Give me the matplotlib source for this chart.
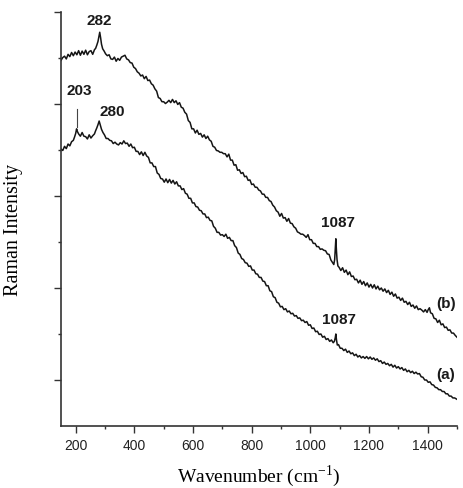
import numpy as np
import matplotlib
matplotlib.use("Agg")
import matplotlib.pyplot as plt
from matplotlib.ticker import FixedLocator, NullFormatter

# Raman spectra, intensity in arbitrary units (x1000 counts)
wn_b = [150, 156, 162, 168, 174, 180, 186, 192, 198, 204, 210, 216, 222, 228, 234,
        240, 246, 252, 258, 264, 268, 272, 276, 279, 282, 285, 288, 292, 297, 302,
        308, 314, 320, 326, 332, 338, 344, 350, 356, 362, 368, 374, 380, 386, 392,
        398, 404, 410, 416, 422, 428, 434, 440, 446, 452, 458, 464, 470, 476, 482,
        488, 494, 500, 506, 512, 518, 524, 530, 536, 542, 548, 554, 560, 566, 572,
        578, 584, 590, 596, 602, 608, 614, 620, 626, 632, 638, 644, 650, 656, 662,
        668, 674, 680, 686, 692, 698, 704, 710, 716, 722, 728, 734, 740, 746, 752,
        758, 764, 770, 776, 782, 788, 794, 800, 806, 812, 818, 824, 830, 836, 842,
        848, 854, 860, 866, 872, 878, 884, 890, 896, 902, 908, 914, 920, 926, 932,
        938, 944, 950, 956, 962, 968, 974, 980, 986, 992, 998, 1004, 1010, 1016, 1022,
        1028, 1034, 1040, 1046, 1052, 1058, 1064, 1070, 1076, 1080, 1083, 1085, 1087, 1089, 1091,
        1094, 1098, 1104, 1110, 1116, 1122, 1128, 1134, 1140, 1146, 1152, 1158, 1164, 1170, 1176,
        1182, 1188, 1194, 1200, 1206, 1212, 1218, 1224, 1230, 1236, 1242, 1248, 1254, 1260, 1266,
        1272, 1278, 1284, 1290, 1296, 1302, 1308, 1314, 1320, 1326, 1332, 1338, 1344, 1350, 1356,
        1362, 1368, 1374, 1380, 1386, 1392, 1398, 1402, 1406, 1410, 1416, 1422, 1428, 1434, 1440,
        1446, 1452, 1458, 1464, 1470, 1476, 1482, 1488, 1494, 1500]
int_b = [7.95, 8.01, 8.04, 7.98, 8.08, 8.03, 8.12, 8.05, 8.13, 8.07, 8.16, 8.06, 8.15, 8.08, 8.17,
         8.07, 8.14, 8.16, 8.08, 8.18, 8.21, 8.28, 8.36, 8.46, 8.56, 8.44, 8.30, 8.20, 8.15, 8.09,
         8.05, 8.07, 7.98, 7.97, 8.02, 7.93, 7.99, 7.95, 8.02, 8.04, 8.06, 7.98, 7.96, 7.90, 7.89,
         7.80, 7.77, 7.70, 7.67, 7.61, 7.63, 7.55, 7.60, 7.51, 7.52, 7.44, 7.41, 7.33, 7.28, 7.14,
         7.12, 7.05, 7.05, 7.01, 7.04, 7.08, 7.03, 7.10, 7.03, 7.07, 6.99, 7.03, 6.93, 6.91, 6.82,
         6.78, 6.64, 6.60, 6.46, 6.46, 6.37, 6.43, 6.34, 6.36, 6.28, 6.33, 6.25, 6.30, 6.22, 6.19,
         6.08, 6.06, 5.99, 5.98, 5.95, 5.95, 5.92, 5.92, 5.85, 5.91, 5.78, 5.78, 5.67, 5.68, 5.56,
         5.57, 5.49, 5.51, 5.42, 5.43, 5.34, 5.35, 5.25, 5.26, 5.19, 5.19, 5.13, 5.11, 5.04, 5.04,
         4.97, 4.97, 4.90, 4.88, 4.80, 4.76, 4.68, 4.65, 4.56, 4.62, 4.52, 4.53, 4.45, 4.51, 4.41,
         4.40, 4.33, 4.30, 4.22, 4.20, 4.17, 4.17, 4.14, 4.10, 4.16, 4.05, 4.05, 3.97, 3.97, 3.90,
         3.90, 3.84, 3.85, 3.82, 3.81, 3.74, 3.73, 3.61, 3.55, 3.51, 3.62, 3.85, 4.07, 3.82, 3.62,
         3.48, 3.45, 3.38, 3.44, 3.34, 3.39, 3.29, 3.35, 3.25, 3.26, 3.18, 3.19, 3.11, 3.17, 3.08,
         3.14, 3.05, 3.11, 3.02, 3.08, 3.00, 3.07, 2.98, 3.04, 2.96, 3.00, 2.93, 2.98, 2.90, 2.95,
         2.86, 2.91, 2.82, 2.87, 2.78, 2.80, 2.73, 2.78, 2.69, 2.71, 2.64, 2.69, 2.60, 2.63, 2.56,
         2.61, 2.53, 2.55, 2.52, 2.48, 2.53, 2.47, 2.53, 2.57, 2.46, 2.44, 2.34, 2.33, 2.25, 2.30,
         2.20, 2.22, 2.14, 2.15, 2.08, 2.09, 2.02, 2.02, 1.97, 1.93]

wn_a = [150, 156, 162, 168, 174, 180, 186, 192, 196, 200, 203, 206, 210, 216, 222,
        228, 234, 240, 246, 252, 258, 264, 268, 272, 276, 280, 284, 288, 293, 298,
        304, 310, 316, 322, 328, 334, 340, 346, 352, 358, 364, 370, 376, 382, 388,
        394, 400, 406, 412, 418, 424, 430, 436, 442, 448, 454, 460, 466, 472, 478,
        484, 490, 496, 502, 508, 514, 520, 526, 532, 538, 544, 550, 556, 562, 568,
        574, 580, 586, 592, 598, 604, 610, 616, 622, 628, 634, 640, 646, 652, 658,
        664, 670, 676, 682, 688, 694, 700, 706, 712, 718, 724, 730, 736, 742, 748,
        754, 760, 766, 772, 778, 784, 790, 796, 802, 808, 814, 820, 826, 832, 838,
        844, 850, 856, 862, 868, 874, 880, 886, 892, 898, 904, 910, 916, 922, 928,
        934, 940, 946, 952, 958, 964, 970, 976, 982, 988, 994, 1000, 1006, 1012, 1018,
        1024, 1030, 1036, 1042, 1048, 1054, 1060, 1066, 1072, 1078, 1082, 1085, 1087, 1089, 1092,
        1096, 1102, 1108, 1114, 1120, 1126, 1132, 1138, 1144, 1150, 1156, 1162, 1168, 1174, 1180,
        1186, 1192, 1198, 1204, 1210, 1216, 1222, 1228, 1234, 1240, 1246, 1252, 1258, 1264, 1270,
        1276, 1282, 1288, 1294, 1300, 1306, 1312, 1318, 1324, 1330, 1336, 1342, 1348, 1354, 1360,
        1366, 1372, 1378, 1384, 1390, 1396, 1402, 1408, 1414, 1420, 1426, 1432, 1438, 1444, 1450,
        1456, 1462, 1468, 1474, 1480, 1486, 1492, 1500]
int_a = [6.02, 5.99, 6.08, 6.03, 6.13, 6.09, 6.18, 6.21, 6.28, 6.36, 6.46, 6.40, 6.35, 6.30, 6.38,
         6.30, 6.29, 6.24, 6.33, 6.26, 6.31, 6.35, 6.42, 6.48, 6.55, 6.63, 6.54, 6.45, 6.38, 6.33,
         6.25, 6.25, 6.21, 6.20, 6.14, 6.17, 6.13, 6.11, 6.16, 6.13, 6.20, 6.14, 6.15, 6.08, 6.13,
         6.05, 6.06, 5.97, 5.97, 5.90, 5.96, 5.88, 5.95, 5.87, 5.84, 5.72, 5.72, 5.64, 5.64, 5.50,
         5.47, 5.38, 5.37, 5.30, 5.37, 5.29, 5.36, 5.28, 5.34, 5.26, 5.31, 5.22, 5.22, 5.14, 5.16,
         5.06, 5.04, 4.95, 4.95, 4.85, 4.85, 4.77, 4.76, 4.69, 4.68, 4.61, 4.61, 4.53, 4.54, 4.47,
         4.46, 4.34, 4.30, 4.21, 4.21, 4.15, 4.16, 4.12, 4.17, 4.08, 4.10, 4.03, 4.03, 3.92, 3.88,
         3.76, 3.73, 3.64, 3.62, 3.55, 3.54, 3.47, 3.48, 3.39, 3.39, 3.31, 3.30, 3.23, 3.23, 3.15,
         3.14, 3.05, 3.05, 2.94, 2.92, 2.81, 2.79, 2.69, 2.67, 2.59, 2.60, 2.53, 2.55, 2.48, 2.50,
         2.44, 2.45, 2.39, 2.40, 2.34, 2.35, 2.29, 2.30, 2.25, 2.27, 2.19, 2.20, 2.12, 2.13, 2.05,
         2.06, 1.99, 2.00, 1.93, 1.95, 1.88, 1.90, 1.84, 1.87, 1.81, 1.84, 1.92, 2.00, 1.88, 1.76,
         1.77, 1.69, 1.69, 1.64, 1.67, 1.60, 1.63, 1.57, 1.59, 1.53, 1.56, 1.50, 1.53, 1.48, 1.51,
         1.47, 1.51, 1.46, 1.50, 1.45, 1.48, 1.43, 1.46, 1.40, 1.42, 1.36, 1.39, 1.34, 1.36, 1.31,
         1.34, 1.28, 1.32, 1.26, 1.29, 1.24, 1.27, 1.21, 1.24, 1.18, 1.21, 1.16, 1.19, 1.14, 1.17,
         1.13, 1.14, 1.07, 1.06, 1.00, 1.00, 0.95, 0.96, 0.90, 0.89, 0.84, 0.83, 0.79, 0.79, 0.75,
         0.75, 0.70, 0.70, 0.65, 0.65, 0.61, 0.61, 0.58]

# peak labels: (text, wavenumber, intensity)
labels = [("282", 280, 8.83), ("203", 211, 7.30), ("280", 324, 6.85),
          ("1087", 1094, 4.43), ("1087", 1098, 2.33),
          ("(b)", 1462, 2.67), ("(a)", 1462, 1.13)]

fig = plt.figure(figsize=(4.63, 4.89), dpi=100)
ax = fig.add_axes([0.1318, 0.1268, 0.8552, 0.8466])

ax.plot(wn_b, int_b, color="#151515", lw=1.1)
ax.plot(wn_a, int_a, color="#151515", lw=1.1)

for txt, x, y in labels:
    ax.text(x, y, txt, ha="center", va="center", fontsize=11,
            fontweight="bold", family="Liberation Sans", color="#1a1a1a")
# marker line for the 203 band
ax.plot([205, 205], [6.50, 6.89], color="#444444", lw=0.8)

ax.set_xlim(150, 1500)
ax.set_ylim(0, 9)
ax.spines["top"].set_visible(False)
ax.spines["right"].set_visible(False)
for s in ("left", "bottom"):
    ax.spines[s].set_linewidth(1.2)
    ax.spines[s].set_color("#333333")

ax.xaxis.set_major_locator(FixedLocator([200, 400, 600, 800, 1000, 1200, 1400]))
ax.xaxis.set_minor_locator(FixedLocator([300, 500, 700, 900, 1100, 1300, 1500]))
ax.yaxis.set_major_locator(FixedLocator([1, 3, 5, 7, 9]))
ax.yaxis.set_minor_locator(FixedLocator([2, 4, 6, 8]))
ax.yaxis.set_major_formatter(NullFormatter())
ax.tick_params(which="major", direction="out", length=5, width=1.0, color="#333333")
ax.tick_params(which="minor", direction="out", length=2.5, width=1.0, color="#333333")
ax.tick_params(axis="x", labelsize=10, pad=4)
for lab in ax.get_xticklabels():
    lab.set_family("Liberation Sans")
    lab.set_color("#222222")

ax.set_xlabel(r"Wavenumber (cm$^{\mathregular{-1}}$)", family="Liberation Serif",
              fontsize=14, labelpad=7)
ax.set_ylabel("Raman Intensity", family="Liberation Serif", fontsize=14.5)
ax.yaxis.set_label_coords(-0.095, 0.476)

fig.savefig("out.png", dpi=100)
